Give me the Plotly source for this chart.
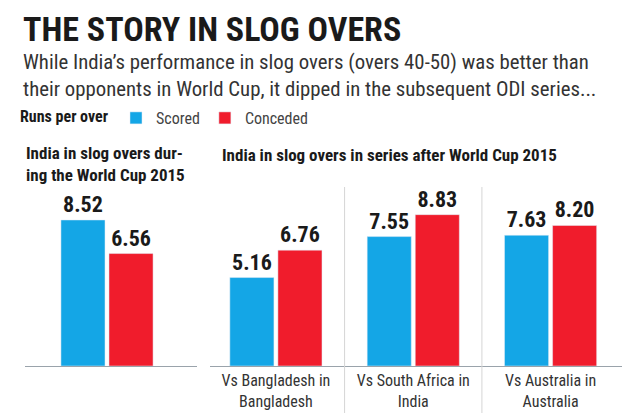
import plotly.graph_objects as go

# ---- data ----
wc_category = ["World Cup 2015"]
wc_scored = [8.52]
wc_conceded = [6.56]

series_categories = ["Vs Bangladesh in<br>Bangladesh", "Vs South Africa in<br>India", "Vs Australia in<br>Australia"]
series_scored = [5.16, 7.55, 7.63]
series_conceded = [6.76, 8.83, 8.20]

BLUE = "#14a6e6"
RED = "#f01c2c"
COND = "Liberation Sans Narrow, Roboto Condensed, Roboto, sans-serif"

W, H = 640, 418
def px(x):
    return x / W
def py(y):
    return 1 - y / H

def labels(vals):
    return [f"<b>{v:.2f}</b>" for v in vals]

fig = go.Figure()
lbl_font = dict(family=COND, size=22, color="#1a1a1a")
fig.add_trace(go.Bar(x=wc_category, y=wc_scored, name="Scored", marker_color=BLUE,
                     text=labels(wc_scored), textposition="outside",
                     textfont=lbl_font, cliponaxis=False, xaxis="x", yaxis="y",
                     legendgroup="s", hoverinfo="skip"))
fig.add_trace(go.Bar(x=wc_category, y=wc_conceded, name="Conceded", marker_color=RED,
                     text=labels(wc_conceded), textposition="outside",
                     textfont=lbl_font, cliponaxis=False, xaxis="x", yaxis="y",
                     legendgroup="c", hoverinfo="skip"))
fig.add_trace(go.Bar(x=series_categories, y=series_scored, name="Scored", marker_color=BLUE,
                     text=labels(series_scored), textposition="outside",
                     textfont=lbl_font, cliponaxis=False, xaxis="x2", yaxis="y",
                     legendgroup="s", showlegend=False, hoverinfo="skip"))
fig.add_trace(go.Bar(x=series_categories, y=series_conceded, name="Conceded", marker_color=RED,
                     text=labels(series_conceded), textposition="outside",
                     textfont=lbl_font, cliponaxis=False, xaxis="x2", yaxis="y",
                     legendgroup="c", showlegend=False, hoverinfo="skip"))

unit = 137.3  # px per category
fig.update_layout(
    width=W, height=H,
    margin=dict(l=0, r=0, t=0, b=0),
    paper_bgcolor="white", plot_bgcolor="white",
    barmode="group", bargap=0.30, bargroupgap=0.083,
    xaxis=dict(domain=[px(25), px(197)], range=[-(107 - 25) / unit, (197 - 107) / unit],
               showticklabels=False, ticks="", showgrid=False, zeroline=False,
               showline=True, linecolor="#9aa3ab", linewidth=1, fixedrange=True),
    xaxis2=dict(domain=[px(210), px(622)], range=[-0.48, 2.52],
                showgrid=False, zeroline=False, ticks="",
                showline=True, linecolor="#9aa3ab", linewidth=1,
                tickfont=dict(family=COND, size=16, color="#333333"), fixedrange=True),
    yaxis=dict(domain=[py(366), 1], range=[0, 366 / 17.14], visible=False, fixedrange=True),
    showlegend=True,
    legend=dict(orientation="h", x=px(18), y=py(118), xanchor="left", yanchor="middle",
                title=dict(text="<b>Runs per over</b>", font=dict(family=COND, size=16, color="#1a1a1a")),
                font=dict(family=COND, size=16, color="#444444"), itemwidth=30,
                bgcolor="rgba(0,0,0,0)"),
)

# separators between series groups
for xv in [0.5, 1.5]:
    fig.add_shape(type="line", xref="x2", yref="paper", x0=xv, x1=xv, y0=py(413), y1=py(187),
                  line=dict(color="#d5d5d5", width=1))

fig.add_annotation(text="<b>THE STORY IN SLOG OVERS</b>", xref="paper", yref="paper",
                   x=px(21), y=py(29), xanchor="left", yanchor="middle", showarrow=False,
                   font=dict(family=COND, size=34, color="#1a1a1a"))
fig.add_annotation(text="While India’s performance in slog overs (overs 40-50) was better than<br>"
                        "their opponents in World Cup, it dipped in the subsequent ODI series...",
                   xref="paper", yref="paper", x=px(21), y=py(75), xanchor="left", yanchor="middle",
                   align="left", showarrow=False,
                   font=dict(family=COND, size=20.8, color="#333333"))
fig.add_annotation(text="<b>India in slog overs dur-<br>ing the World Cup 2015</b>",
                   xref="paper", yref="paper", x=px(24), y=py(164), xanchor="left", yanchor="middle",
                   align="left", showarrow=False,
                   font=dict(family=COND, size=17, color="#1a1a1a"))
fig.add_annotation(text="<b>India in slog overs in series after World Cup 2015</b>",
                   xref="paper", yref="paper", x=px(220), y=py(155), xanchor="left", yanchor="middle",
                   align="left", showarrow=False,
                   font=dict(family=COND, size=17, color="#1a1a1a"))

fig.write_html("out.html")
